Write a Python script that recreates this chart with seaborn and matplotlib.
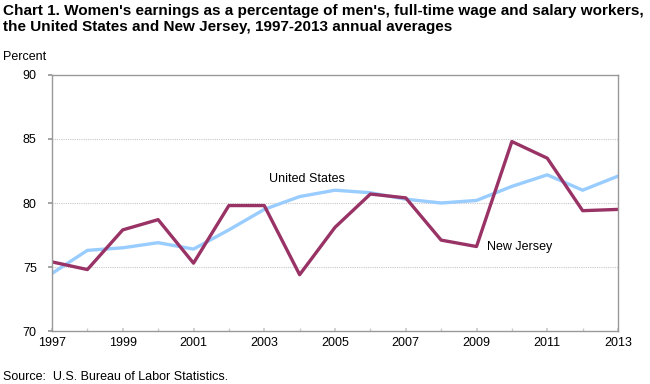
import numpy as np
import pandas as pd
import matplotlib
matplotlib.use("Agg")
import matplotlib.pyplot as plt
import seaborn as sns

years = list(range(1997, 2014))
us = [74.5, 76.3, 76.5, 76.9, 76.4, 77.9, 79.5, 80.5, 81.0, 80.8, 80.3, 80.0, 80.2, 81.3, 82.2, 81.0, 82.1]
nj = [75.4, 74.8, 77.9, 78.7, 75.3, 79.8, 79.8, 74.4, 78.1, 80.7, 80.4, 77.1, 76.6, 84.8, 83.5, 79.4, 79.5]
series_names = ["United States", "New Jersey"]
xtick_labels = [str(y) for y in range(1997, 2014, 2)]
yticks = [70, 75, 80, 85, 90]

title = ("Chart 1. Women's earnings as a percentage of men's, full-time wage and salary workers,\n"
         "the United States and New Jersey, 1997-2013 annual averages")

df = pd.DataFrame({
    "year": years * 2,
    "value": us + nj,
    "series": [series_names[0]] * len(years) + [series_names[1]] * len(years),
})

sns.set_theme(style="white")
plt.rcParams['font.family'] = ['Liberation Sans', 'DejaVu Sans']

fig = plt.figure(figsize=(6.5, 3.84), dpi=100)
ax = fig.add_axes([0.08, 0.138, 0.8708, 0.6667])

palette = {"United States": "#99CCFF", "New Jersey": "#993366"}
sns.lineplot(data=df, x="year", y="value", hue="series", palette=palette,
             linewidth=2.4, ax=ax, legend=False)

ax.set_xlim(1997, 2013)
ax.set_ylim(70, 90)
ax.set_xticks(list(range(1997, 2014, 2)))
ax.set_xticklabels(xtick_labels)
ax.set_xticks(years, minor=True)
ax.set_yticks(yticks)
ax.set_yticklabels([str(v) for v in yticks])
ax.set_xlabel("")
ax.set_ylabel("")

for v in [75, 80, 85]:
    ax.axhline(v, color="#C8C8C8", linestyle=(0, (1, 1)), linewidth=0.8, zorder=0)

for sp in ax.spines.values():
    sp.set_color("#999999")
    sp.set_linewidth(1.0)

ax.tick_params(axis="x", which="both", direction="in", length=2.5, color="#CCCCCC",
               labelsize=9, pad=4, bottom=True)
ax.tick_params(axis="y", direction="out", length=3, color="#999999", labelsize=9, pad=8, left=True)
for lbl in ax.get_xticklabels() + ax.get_yticklabels():
    lbl.set_color("#000000")

ax.text(2003.13, 81.9, "United States", fontsize=9, va="center", ha="left", color="#000000")
ax.text(2009.3, 76.6, "New Jersey", fontsize=9, va="center", ha="left", color="#000000")

fig.text(0.005, 0.99, title, fontsize=11, fontweight="bold", va="top", ha="left",
         linespacing=1.2, color="#000000")
fig.text(0.005, 0.852, "Percent", fontsize=9, va="center", ha="left", color="#000000")
fig.text(0.005, 0.018, "Source:  U.S. Bureau of Labor Statistics.", fontsize=9, va="center",
         ha="left", color="#000000")

fig.savefig("out.png", dpi=100)
